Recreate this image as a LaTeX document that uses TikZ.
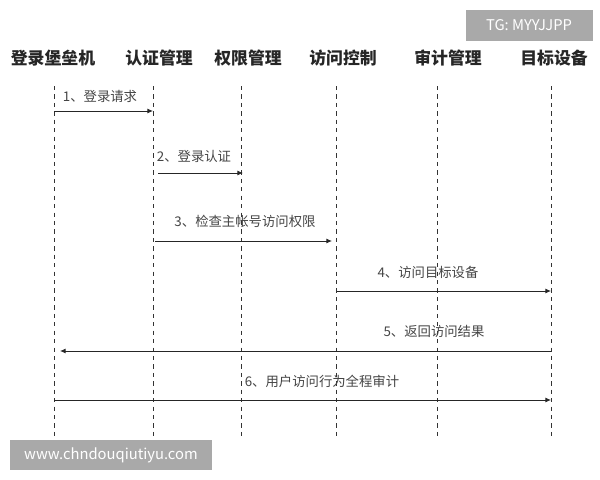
\documentclass[tikz,border=0pt]{standalone}
\usepackage{fontspec}
\setmainfont{Noto Sans CJK SC}
\usepackage{tikz}
\usetikzlibrary{positioning, arrows.meta}
\definecolor{xgray}{HTML}{A9A9A9}
\definecolor{xtext}{HTML}{444444}
\tikzset{
	actor/.style={font=\fontsize{12pt}{14pt}\selectfont\bfseries, text=black!85},
	lifeline/.style={dashed, thin, black!80},
	msg/.style={semithick, black!85, -{Latex[length=4pt, width=3.5pt]}},
	label/.style={font=\fontsize{9.5pt}{11pt}\selectfont, text=xtext},
	stamp/.style={fill=xgray, text=white, font=\fontsize{10.5pt}{12pt}\selectfont, inner sep=0pt},
}

\begin{document}
\begin{tikzpicture}[x=0.025cm, y=-0.025cm]
		\useasboundingbox (0,0) rectangle (600,480);

		% Participants
		\node[actor] (H1) at (53,58) {登录堡垒机};
		\node[actor] (H2) at (159,58) {认证管理};
		\node[actor] (H3) at (248,58) {权限管理};
		\node[actor] (H4) at (343,58) {访问控制};
		\node[actor] (H5) at (448,58) {审计管理};
		\node[actor] (H6) at (554,58) {目标设备};

		% Lifelines
		\foreach \i/\x in {1/54, 2/153, 3/241, 4/336, 5/437, 6/551} {
			\coordinate (T\i) at (\x,86);
			\coordinate (B\i) at (\x,437);
			\draw[lifeline] (T\i) -- (B\i);
		}

		% Messages
		\coordinate (M1a) at (54,111);  \coordinate (M1b) at (153,111);
		\coordinate (M2a) at (158,173); \coordinate (M2b) at (243,173);
		\coordinate (M3a) at (155,241); \coordinate (M3b) at (332,241);
		\coordinate (M4a) at (337,291); \coordinate (M4b) at (551,291);
		\coordinate (M5a) at (551,351); \coordinate (M5b) at (60,351);
		\coordinate (M6a) at (54,400);  \coordinate (M6b) at (551,400);

		\draw[msg] (M1a) -- (M1b);
		\draw[msg] (M2a) -- (M2b);
		\draw[msg] (M3a) -- (M3b);
		\draw[msg] (M4a) -- (M4b);
		\draw[msg] (M5a) -- (M5b);
		\draw[msg] (M6a) -- (M6b);

		\node[label] (L1) at (100,96) {1、登录请求};
		\node[label] (L2) at (194,156) {2、登录认证};
		\node[label] (L3) at (245,221) {3、检查主帐号访问权限};
		\node[label] (L4) at (428,272) {4、访问目标设备};
		\node[label] (L5) at (434,331) {5、返回访问结果};
		\node[label] (L6) at (322,381) {6、用户访问行为全程审计};

		% Stamps
		\node[stamp, minimum width=127*0.025cm, minimum height=31*0.025cm] (TG) at (529,25) {TG: MYYJJPP};
		\node[stamp, minimum width=202*0.025cm, minimum height=30*0.025cm] (WWW) at (111,455) {www.chndouqiutiyu.com};
	\end{tikzpicture}
\end{document}
